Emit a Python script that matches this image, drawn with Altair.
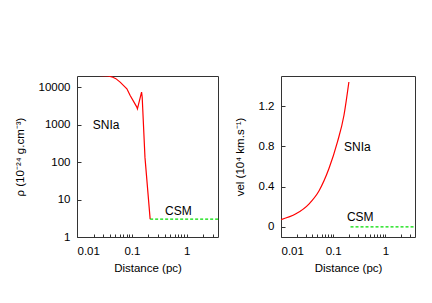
import altair as alt
import pandas as pd

# ---- data ----
rho_x = [0.012, 0.02, 0.03, 0.037, 0.045, 0.051, 0.061, 0.081, 0.093, 0.123, 0.126, 0.15, 0.154, 0.173, 0.215]
rho_y = [21000, 21000, 20500, 20000, 18500, 17000, 13700, 9100, 6000, 2950, 2650, 7400, 5400, 134, 3]
csm_rho_x = [0.215, 3.7]
csm_rho_y = [3, 3]

vel_x = [0.01, 0.0193, 0.0346, 0.0537, 0.083, 0.12, 0.161, 0.2]
vel_y = [0.073, 0.13, 0.23, 0.36, 0.58, 0.84, 1.11, 1.44]
csm_vel_x = [0.215, 3.7]
csm_vel_y = [0, 0]

x_ticks = [0.01, 0.02, 0.03, 0.04, 0.05, 0.06, 0.07, 0.08, 0.09,
           0.1, 0.2, 0.3, 0.4, 0.5, 0.6, 0.7, 0.8, 0.9, 1, 2, 3]
rho_ticks = [1, 10, 100, 1000, 10000]
vel_ticks = [0, 0.4, 0.8, 1.2]

lbl_left = pd.DataFrame({"x": [0.034, 0.7], "y": [1000, 5], "t": ["SNIa", "CSM"]})
lbl_right = pd.DataFrame({"x": [0.29, 0.33], "y": [0.79, 0.1], "t": ["SNIa", "CSM"]})

FONT = "Liberation Sans"
W1, W2, H = 141, 134, 161

xscale = alt.Scale(type="log", domain=[0.01, 3.7], nice=False)
xaxis = alt.Axis(values=x_ticks, title="Distance (pc)",
                 labelExpr="(datum.value==0.01||datum.value==0.1||datum.value==1)?datum.label:''",
                 format="~g", tickSize=3, offset=-3, labelPadding=8, titlePadding=6)

# ---- left panel: density ----
df_rho = pd.DataFrame({"x": rho_x, "y": rho_y})
df_csm_rho = pd.DataFrame({"x": csm_rho_x, "y": csm_rho_y})
yscale_l = alt.Scale(type="log", domain=[1, 20000], nice=False)
yaxis_l = alt.Axis(values=rho_ticks, format="d", title="ρ (10⁻²⁴ g.cm⁻³)",
                   tickSize=4, offset=-4, labelPadding=7, titlePadding=13)

l1 = alt.Chart(df_rho).mark_line(color="#ff0000", strokeWidth=1.2, clip=True).encode(
    x=alt.X("x:Q", scale=xscale, axis=xaxis),
    y=alt.Y("y:Q", scale=yscale_l, axis=yaxis_l))
l2 = alt.Chart(df_csm_rho).mark_line(color="#00dd00", strokeWidth=1.2, strokeDash=[3, 2], clip=True).encode(
    x=alt.X("x:Q", scale=xscale), y=alt.Y("y:Q", scale=yscale_l))
l3 = alt.Chart(lbl_left).mark_text(font=FONT, fontSize=12, color="black").encode(
    x=alt.X("x:Q", scale=xscale), y=alt.Y("y:Q", scale=yscale_l), text="t:N")
left = alt.layer(l1, l2, l3).properties(width=W1, height=H)

# ---- right panel: velocity ----
df_vel = pd.DataFrame({"x": vel_x, "y": vel_y})
df_csm_vel = pd.DataFrame({"x": csm_vel_x, "y": csm_vel_y})
yscale_r = alt.Scale(domain=[-0.1, 1.5], nice=False, zero=False)
yaxis_r = alt.Axis(values=vel_ticks, format="~g", title="vel (10⁴ km.s⁻¹)",
                   tickSize=4, offset=-4, labelPadding=7, titlePadding=13)

r1 = alt.Chart(df_vel).mark_line(color="#ff0000", strokeWidth=1.2, clip=True,
                                 interpolate="monotone").encode(
    x=alt.X("x:Q", scale=xscale, axis=xaxis),
    y=alt.Y("y:Q", scale=yscale_r, axis=yaxis_r))
r2 = alt.Chart(df_csm_vel).mark_line(color="#00dd00", strokeWidth=1.2, strokeDash=[3, 2], clip=True).encode(
    x=alt.X("x:Q", scale=xscale), y=alt.Y("y:Q", scale=yscale_r))
r3 = alt.Chart(lbl_right).mark_text(font=FONT, fontSize=12, color="black").encode(
    x=alt.X("x:Q", scale=xscale), y=alt.Y("y:Q", scale=yscale_r), text="t:N")
right = alt.layer(r1, r2, r3).properties(width=W2, height=H)

chart = alt.hconcat(left, right, spacing=14).properties(
    padding={"left": 5, "top": 67, "right": 5, "bottom": 5},
    background="white",
).configure_view(stroke="#333333", strokeWidth=1).configure_axis(
    labelFont=FONT, titleFont=FONT, labelFontSize=11.5, titleFontSize=11.5,
    titleFontWeight="normal", labelColor="black", titleColor="black",
    tickColor="#333333", domain=False, grid=False
)

chart.save("out.html", embed_options={"renderer": "svg", "actions": False})
